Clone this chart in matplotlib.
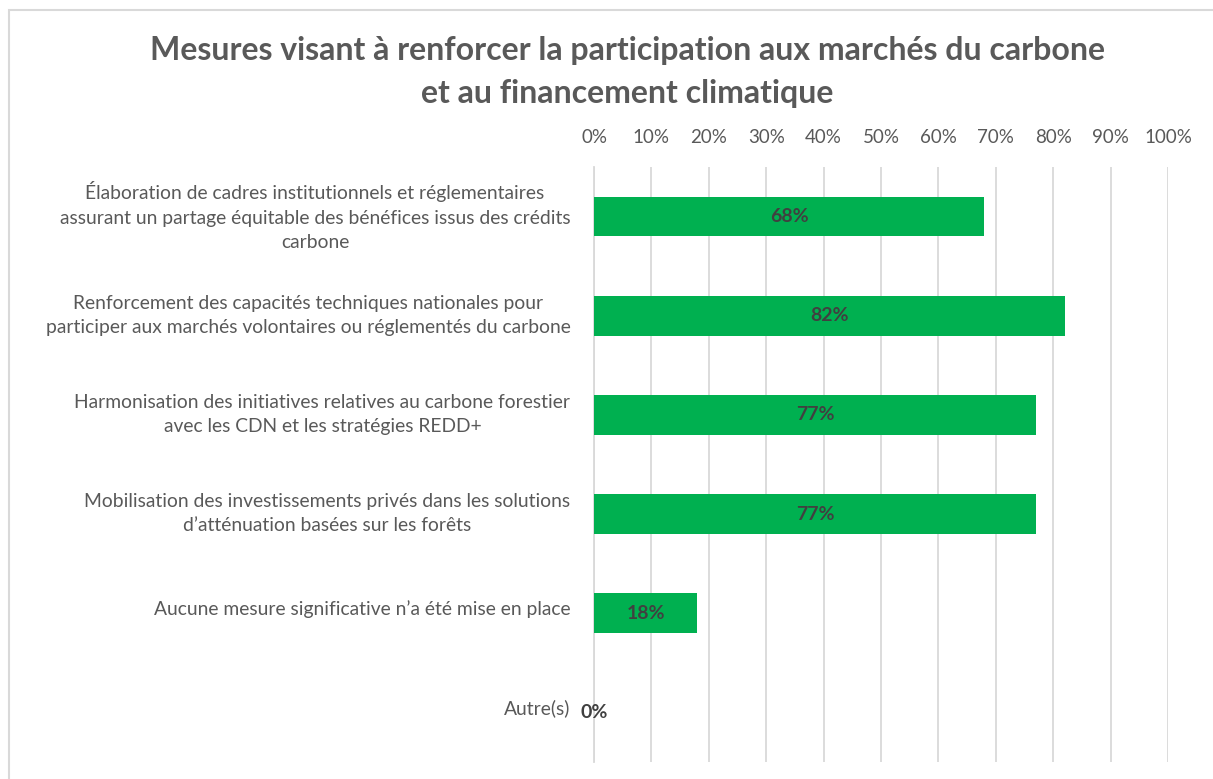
import matplotlib.pyplot as plt
import matplotlib.transforms as mtransforms
from matplotlib.patches import Rectangle
from matplotlib.ticker import PercentFormatter

categories = [
    "Élaboration de cadres institutionnels et réglementaires\nassurant un partage équitable des bénéfices issus des crédits\ncarbone",
    "Renforcement des capacités techniques nationales pour\nparticiper aux marchés volontaires ou réglementés du carbone",
    "Harmonisation des initiatives relatives au carbone forestier\navec les CDN et les stratégies REDD+",
    "Mobilisation des investissements privés dans les solutions\nd’atténuation basées sur les forêts",
    "Aucune mesure significative n’a été mise en place",
    "Autre(s)",
]
values = [68, 82, 77, 77, 18, 0]
title = "Mesures visant à renforcer la participation aux marchés du carbone\net au financement climatique"

GREEN = "#00b050"
GREY = "#595959"
GRID = "#d9d9d9"

W, H = 1213, 779
fig = plt.figure(figsize=(W / 100, H / 100), dpi=100)

# chart frame (runs off the right and bottom edges)
fig.patches.append(Rectangle((9 / W, -0.05), 1.1, 1 - 9.5 / H + 0.05,
                             transform=fig.transFigure, fill=False,
                             edgecolor=GRID, linewidth=1.5))

ax = fig.add_axes([594 / W, 1 - 762 / H, 574 / W, (762 - 167) / H])

ypos = list(range(len(categories)))
ax.barh(ypos, values, height=0.40, color=GREEN, linewidth=0, zorder=3)
ax.set_ylim(len(categories) - 0.5, -0.5)
ax.set_xlim(0, 100)
ax.set_xticks(range(0, 101, 10))
ax.xaxis.set_major_formatter(PercentFormatter(decimals=0))
ax.xaxis.tick_top()
ax.tick_params(axis="x", length=0, pad=15, labelsize=13.5, labelcolor=GREY)
ax.set_yticks(ypos)
ax.set_yticklabels(categories, ha="right", multialignment="center",
                   fontsize=13.9, color=GREY, linespacing=1.52)
ax.tick_params(axis="y", length=0, pad=17)
# nudge category labels up a little
shift = mtransforms.ScaledTranslation(0, 4 / 72, fig.dpi_scale_trans)
for lbl in ax.get_yticklabels():
    lbl.set_fontfamily("Lato")
    lbl.set_transform(lbl.get_transform() + shift)
for lbl in ax.get_xticklabels():
    lbl.set_fontfamily("Lato")

ax.grid(axis="x", color=GRID, linewidth=1.3, zorder=0)
for s in ["top", "right", "bottom"]:
    ax.spines[s].set_visible(False)
ax.spines["left"].set_color(GRID)
ax.spines["left"].set_linewidth(1.3)

for y, v in zip(ypos, values):
    ax.text(v / 2, y, f"{v}%", ha="center", va="center",
            fontsize=14, fontweight="bold", color="#404040", family="Lato", zorder=4)

fig.text(627 / W, 1 - 72 / H, title, ha="center", va="center", fontsize=23,
         fontweight="bold", color=GREY, family="Lato", linespacing=1.55)

fig.savefig("out.png", dpi=100)
